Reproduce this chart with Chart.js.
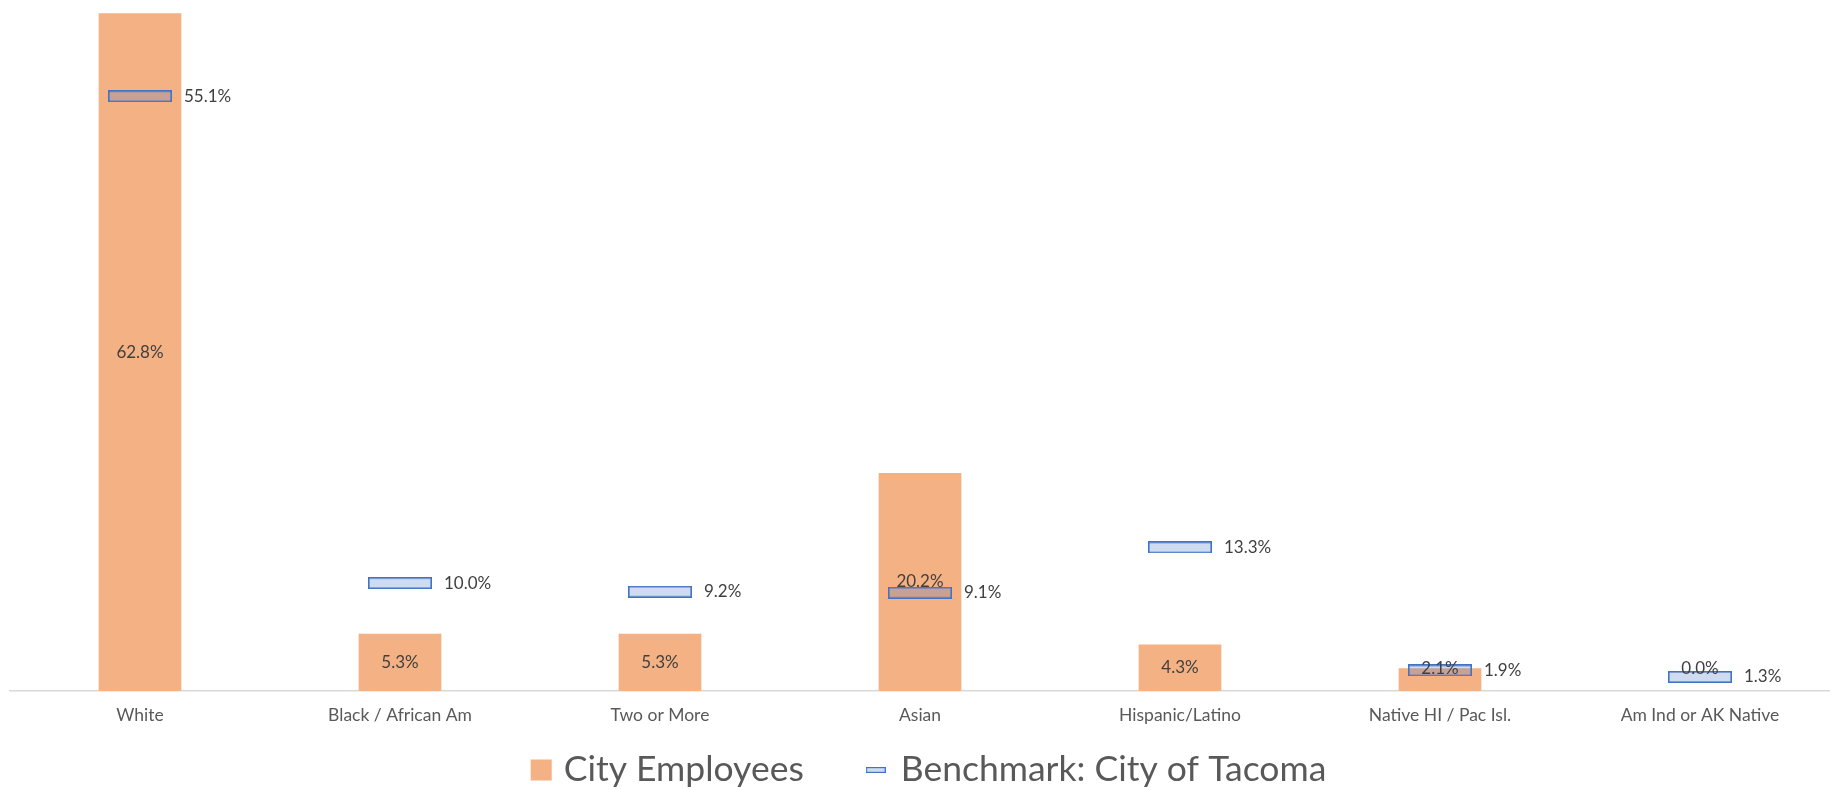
<!DOCTYPE html>
<html>
<head>
<meta charset="utf-8">
<script src="https://cdn.jsdelivr.net/npm/chart.js@4/dist/chart.umd.min.js"></script>
<style>
    html, body { margin: 0; padding: 0; background: #fff; overflow: hidden; }
    canvas { display: block; }
</style>
</head>
<body>
<canvas id="raceChart" width="1837" height="790"></canvas>
<script>
// chart values
const categories = ["White", "Black / African Am", "Two or More", "Asian", "Hispanic/Latino", "Native HI / Pac Isl.", "Am Ind or AK Native"];
const cityEmployees = [62.8, 5.3, 5.3, 20.2, 4.3, 2.1, 0.0];
const benchmarkTacoma = [55.1, 10.0, 9.2, 9.1, 13.3, 1.9, 1.3];
const seriesNames = ["City Employees", "Benchmark: City of Tacoma"];

const FONT = "Lato, 'Open Sans', sans-serif";
const barColor = "#F4B183";
const markerFill = "rgba(68, 114, 196, 0.26)";
const markerLine = "#4472C4";

// little helper to build the benchmark marker image (a flat box)
function makeMarker(w, h, lw) {
    const c = document.createElement("canvas");
    c.width = w;
    c.height = h;
    const g = c.getContext("2d");
    g.fillStyle = markerFill;
    g.fillRect(lw / 2, lw / 2, w - lw, h - lw);
    g.strokeStyle = markerLine;
    g.lineWidth = lw;
    g.strokeRect(lw / 2, lw / 2, w - lw, h - lw);
    return c;
}
const markerImg = makeMarker(64, 12, 1.6);
const legendMarkerImg = makeMarker(20, 6, 1.2);

// data labels: centered in the bars, right of the markers
const valueLabels = {
    id: "valueLabels",
    afterDatasetsDraw(chart) {
        const ctx = chart.ctx;
        ctx.save();
        ctx.font = "17px " + FONT;
        ctx.fillStyle = "#404040";
        ctx.textBaseline = "middle";

        chart.getDatasetMeta(0).data.forEach((bar, i) => {
            const mid = (bar.y + bar.base) / 2;
            const y = Math.min(mid, bar.base - 22); // keep short-bar labels above the axis
            ctx.textAlign = "center";
            ctx.fillText(cityEmployees[i].toFixed(1) + "%", bar.x, y);
        });

        chart.getDatasetMeta(1).data.forEach((pt, i) => {
            ctx.textAlign = "left";
            ctx.fillText(benchmarkTacoma[i].toFixed(1) + "%", pt.x + markerImg.width / 2 + 12, pt.y);
        });
        ctx.restore();
    },
};

// legend at the bottom, drawn like the Excel one
const bottomLegend = {
    id: "bottomLegend",
    afterDraw(chart) {
        const ctx = chart.ctx;
        ctx.save();
        ctx.font = "35.5px " + FONT;
        ctx.textBaseline = "middle";
        ctx.fillStyle = "#595959";

        const w1 = ctx.measureText(seriesNames[0]).width;
        const w2 = ctx.measureText(seriesNames[1]).width;
        const total = 21 + 12 + w1 + 62 + 20 + 15 + w2;
        let x = chart.width / 2 + 10 - total / 2; // Excel's legend sits a bit right of centre
        const y = chart.height - 20;

        ctx.fillStyle = barColor;
        ctx.fillRect(x, y - 10.5, 21, 21);
        x += 21 + 12;
        ctx.fillStyle = "#595959";
        ctx.fillText(seriesNames[0], x, y);
        x += w1 + 62;
        ctx.drawImage(legendMarkerImg, x, y - 3);
        x += 20 + 15;
        ctx.fillText(seriesNames[1], x, y);
        ctx.restore();
    },
};

const ctx = document.getElementById("raceChart").getContext("2d");

new Chart(ctx, {
    type: "bar",
    data: {
        labels: categories,
        datasets: [
            {
                label: seriesNames[0],
                data: cityEmployees,
                backgroundColor: barColor,
                borderWidth: 0,
                barPercentage: 0.318,
                categoryPercentage: 1,
                order: 1,
            },
            {
                type: "line",
                label: seriesNames[1],
                data: benchmarkTacoma,
                showLine: false,
                pointStyle: markerImg,
                pointRadius: 6,
                pointHoverRadius: 6,
                order: 0,
            },
        ],
    },
    options: {
        responsive: false,
        animation: false,
        events: [],
        layout: {
            padding: { left: 10, right: 0, top: 11, bottom: 58 },
        },
        scales: {
            x: {
                grid: { display: false },
                border: { display: true, color: "#D9D9D9", width: 1.5 },
                ticks: {
                    color: "#595959",
                    font: { family: FONT, size: 17.5 },
                    padding: 6,
                    maxRotation: 0,
                    autoSkip: false,
                },
            },
            y: {
                display: false,
                min: 0,
                max: 63,
            },
        },
        plugins: {
            legend: { display: false },
            tooltip: { enabled: false },
        },
    },
    plugins: [valueLabels, bottomLegend],
});
</script>
</body>
</html>
